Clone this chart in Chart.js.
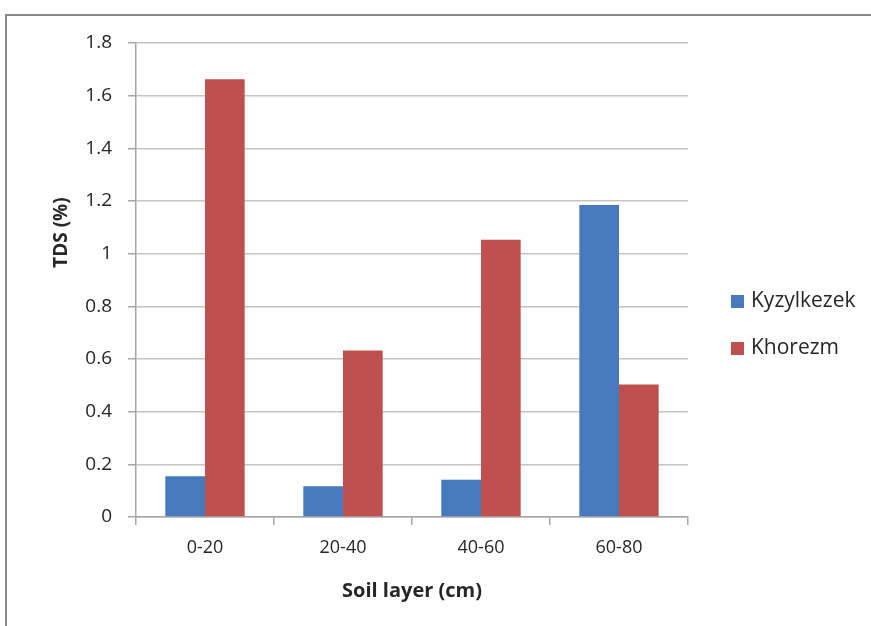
<!DOCTYPE html>
<html>
<head>
<meta charset="utf-8">
<script src="https://cdn.jsdelivr.net/npm/chart.js@4/dist/chart.umd.min.js"></script>
<style>
  html, body { margin: 0; padding: 0; background: #ffffff; }
  #wrap { position: relative; width: 871px; height: 626px; }
  #frame {
    position: absolute; left: 5px; top: 14px; right: 0; bottom: 0;
    border-top: 2px solid #8a8a8a; border-left: 2px solid #8a8a8a;
    pointer-events: none;
  }
</style>
</head>
<body>
<div id="wrap">
  <canvas id="c" width="871" height="626"></canvas>
  <div id="frame"></div>
</div>
<script>
// Soil layers and total dissolved solids by site
const categories = ['0-20', '20-40', '40-60', '60-80'];
const kyzylkezek = [0.155, 0.117, 0.141, 1.185];
const khorezm = [1.662, 0.632, 1.053, 0.503];
const seriesNames = ['Kyzylkezek', 'Khorezm'];
const seriesColors = ['#4679bd', '#c0504d'];
const yTitle = 'TDS (%)';
const xTitle = 'Soil layer (cm)';

const FONT = "'Open Sans', sans-serif";
const TEXT = '#262626';

// y-axis title, drawn a little above the plot middle
const yTitlePlugin = {
  id: 'yTitle',
  afterDraw(chart) {
    const { ctx, chartArea } = chart;
    ctx.save();
    ctx.translate(chartArea.left - 74, chartArea.top + (chartArea.bottom - chartArea.top) * 0.4);
    ctx.rotate(-Math.PI / 2);
    ctx.font = `bold 19px ${FONT}`;
    ctx.fillStyle = TEXT;
    ctx.textAlign = 'center';
    ctx.textBaseline = 'middle';
    ctx.fillText(yTitle, 0, 0);
    ctx.restore();
  }
};

// legend to the right of the plot
const sideLegend = {
  id: 'sideLegend',
  afterDraw(chart) {
    const { ctx, chartArea } = chart;
    const x0 = chartArea.right + 43;
    const mid = (chartArea.top + chartArea.bottom) / 2 + 45;
    const step = 47;
    ctx.save();
    ctx.font = `21px ${FONT}`;
    ctx.textBaseline = 'middle';
    ctx.textAlign = 'left';
    chart.data.datasets.forEach((ds, i) => {
      const y = mid + (i - 0.5) * step;
      ctx.fillStyle = ds.backgroundColor;
      ctx.fillRect(x0, y - 6.5, 13, 13);
      ctx.fillStyle = TEXT;
      ctx.fillText(ds.label, x0 + 20, y);
    });
    ctx.restore();
  }
};

new Chart(document.getElementById('c'), {
  type: 'bar',
  data: {
    labels: categories,
    datasets: [
      { label: seriesNames[0], data: kyzylkezek, backgroundColor: seriesColors[0] },
      { label: seriesNames[1], data: khorezm, backgroundColor: seriesColors[1] }
    ]
  },
  options: {
    responsive: false,
    animation: false,
    devicePixelRatio: 1,
    layout: { padding: { top: 43, right: 183, left: 0, bottom: 0 } },
    datasets: { bar: { categoryPercentage: 0.575, barPercentage: 1.0 } },
    plugins: { legend: { display: false }, tooltip: { enabled: false } },
    scales: {
      x: {
        afterFit(s) { s.height = 109; },
        grid: { drawOnChartArea: false, drawTicks: true, tickLength: 8, color: '#a6a6a6', lineWidth: 1.5 },
        border: { display: true, color: '#a6a6a6', width: 1.5 },
        ticks: { font: { family: FONT, size: 18 }, color: TEXT, padding: 12 },
        title: { display: true, text: xTitle, font: { family: FONT, size: 20, weight: 'bold' }, color: TEXT, padding: { top: 0, bottom: 23 } }
      },
      y: {
        min: 0, max: 1.8,
        afterFit(s) { s.width = 136; },
        ticks: { stepSize: 0.2, font: { family: FONT, size: 19 }, color: TEXT, padding: 16,
                 callback: v => String(Math.round(v * 10) / 10) },
        grid: { color: '#c4c4c4', lineWidth: 1.5, drawTicks: true, tickLength: 8, tickColor: '#a6a6a6' },
        border: { display: true, color: '#a6a6a6', width: 1.5 }
      }
    }
  },
  plugins: [yTitlePlugin, sideLegend]
});
</script>
</body>
</html>
